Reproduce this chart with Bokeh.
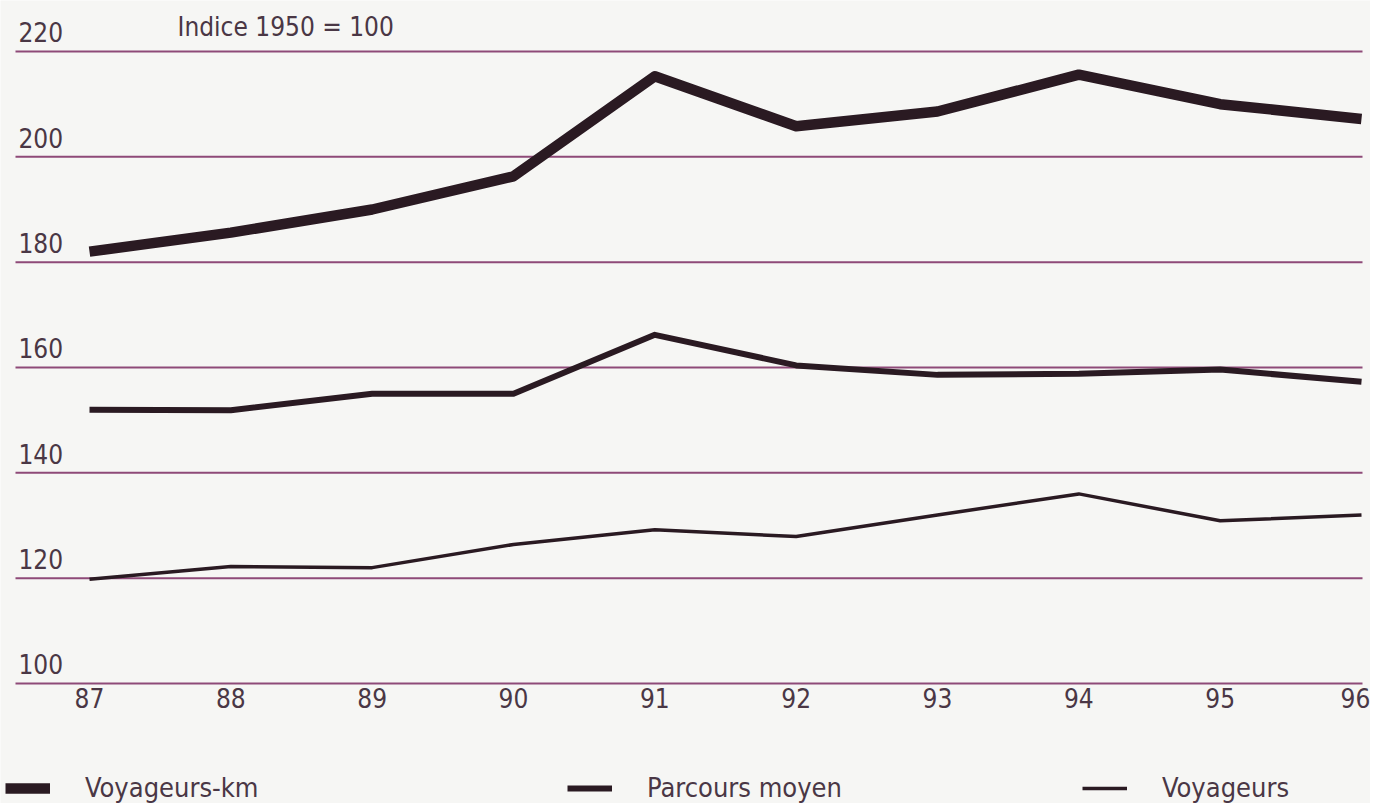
from bokeh.plotting import figure
from bokeh.models import Range1d, Legend, LegendItem, ColumnDataSource
from bokeh.core.properties import value
from bokeh.embed import file_html
from bokeh.resources import INLINE

# ---- data ----
years = [87, 88, 89, 90, 91, 92, 93, 94, 95, 96]
year_labels = ["87", "88", "89", "90", "91", "92", "93", "94", "95", "96"]
voyageurs_km = [182.0, 185.6, 190.0, 196.3, 215.3, 205.8, 208.6, 215.6, 210.0, 207.2]
parcours_moyen = [152.0, 151.9, 155.0, 155.0, 166.2, 160.4, 158.6, 158.8, 159.6, 157.3]
voyageurs = [119.8, 122.2, 122.0, 126.4, 129.2, 127.9, 132.0, 136.0, 130.9, 132.0]
y_ticks = [100, 120, 140, 160, 180, 200, 220]
y_tick_labels = ["100", "120", "140", "160", "180", "200", "220"]
index_note = "Indice 1950 = 100"
series_names = ["Voyageurs-km", "Parcours moyen", "Voyageurs"]

# ---- style ----
FONT = "'DejaVu Sans Condensed', Roboto, sans-serif"
FS = "26px"
BG = "#f6f6f4"
GRID = "#8e4a78"
TEXT = "#4a3745"
LINE = "#2a1a22"

X0, X1 = 86.3703, 96.0637
Y0, Y1 = 77.215, 229.683
GRID_X0, GRID_X1 = 86.4764, 96.0071

p = figure(width=1370, height=803, output_backend="svg", toolbar_location=None,
           x_range=Range1d(X0, X1), y_range=Range1d(Y0, Y1),
           x_axis_location=None, y_axis_location=None, min_border=0,
           background_fill_color=BG, border_fill_color=BG, outline_line_color=None)
p.grid.visible = False

# horizontal rules at each tick value
p.segment(x0=[GRID_X0] * len(y_ticks), x1=[GRID_X1] * len(y_ticks),
          y0=y_ticks, y1=y_ticks, line_color=GRID, line_width=2)

src = ColumnDataSource(dict(x=years, km=voyageurs_km, pm=parcours_moyen, v=voyageurs))
r_km = p.line("x", "km", source=src, line_color=LINE, line_width=10.5, line_join="round")
r_pm = p.line("x", "pm", source=src, line_color=LINE, line_width=6, line_join="round")
r_v = p.line("x", "v", source=src, line_color=LINE, line_width=3.5, line_join="round")

# y tick labels above the rules
p.text(x=[GRID_X0] * len(y_ticks), y=y_ticks, text=y_tick_labels,
       x_offset=3, y_offset=-9, text_baseline="bottom", text_align="left",
       text_font=value(FONT), text_font_size=FS, text_color=TEXT)
p.text(x=[GRID_X0], y=[y_ticks[-1]], text=[index_note],
       x_offset=162, y_offset=-9, text_baseline="bottom", text_align="left",
       text_font=value(FONT), text_font_size=FS, text_color=TEXT)

# x labels under the baseline
xl = ColumnDataSource(dict(x=years, y=[y_ticks[0]] * len(years), t=year_labels,
                           dx=[0] * (len(years) - 1) + [-6]))
p.text(x="x", y="y", text="t", source=xl, x_offset="dx", y_offset=5,
       text_baseline="top", text_align="center",
       text_font=value(FONT), text_font_size=FS, text_color=TEXT)

# legends
for r, name, xloc in zip([r_km, r_pm, r_v], series_names, [5, 567, 1082]):
    lg = Legend(items=[LegendItem(label=name, renderers=[r])], location=(xloc, 0),
                orientation="horizontal", padding=0, margin=0, spacing=0,
                glyph_width=45, glyph_height=20, label_standoff=35,
                label_text_font=FONT, label_text_font_size="27px", label_text_color=TEXT,
                background_fill_alpha=0, border_line_alpha=0)
    p.add_layout(lg, "center")

open("out.html", "w").write(file_html(p, INLINE))
